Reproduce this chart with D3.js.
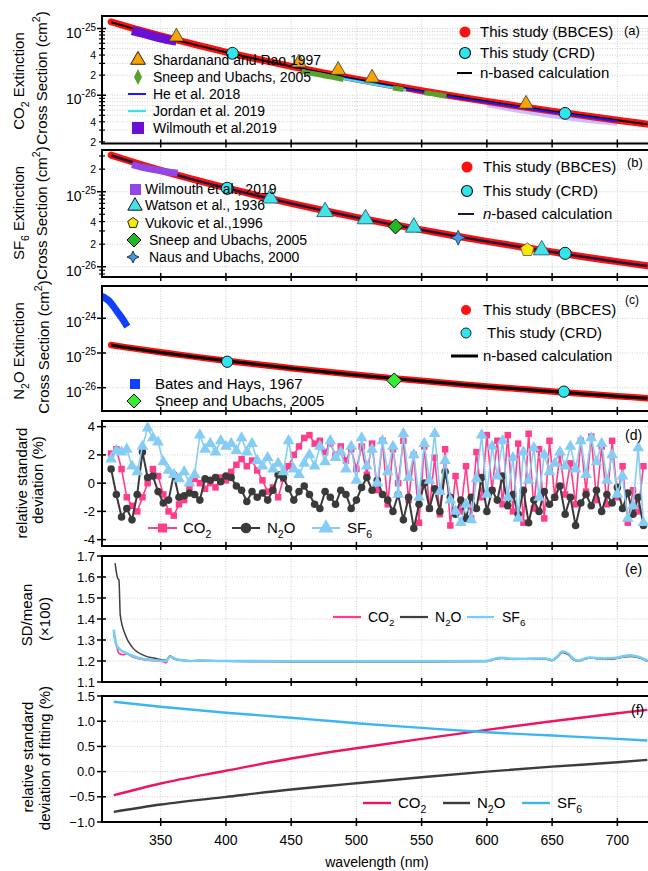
<!DOCTYPE html>
<html>
<head>
<meta charset="utf-8">
<script src="https://cdn.jsdelivr.net/npm/d3@7"></script>
<style>
body { margin: 0; background: #fff; }
svg { display: block; font-family: "Liberation Sans", Arial, Helvetica, sans-serif; }
</style>
</head>
<body>
<svg id="chart" width="648" height="871"></svg>
<script>
// ---------- data ----------
var xTicks = [350, 400, 450, 500, 550, 600, 650, 700];

// broadband (BBCES) and n-based curves, panels a-c
var bbWl = [312, 325, 350, 375, 400, 425, 450, 475, 500, 525, 550, 575, 600, 625, 650, 675, 700, 723];
var co2Bbces = [1.26e-25, 1.06e-25, 7.78e-26, 5.82e-26, 4.44e-26, 3.44e-26, 2.71e-26, 2.16e-26, 1.74e-26, 1.42e-26, 1.17e-26, 9.67e-27, 8.09e-27, 6.81e-27, 5.77e-27, 4.93e-27, 4.23e-27, 3.69e-27];
var co2NBased = [1.25e-25, 1.05e-25, 7.70e-26, 5.78e-26, 4.42e-26, 3.43e-26, 2.70e-26, 2.15e-26, 1.73e-26, 1.41e-26, 1.16e-26, 9.62e-27, 8.05e-27, 6.79e-27, 5.76e-27, 4.92e-27, 4.22e-27, 3.68e-27];
var sf6Bbces = [3.08e-25, 2.61e-25, 1.93e-25, 1.46e-25, 1.13e-25, 8.81e-26, 6.99e-26, 5.62e-26, 4.56e-26, 3.74e-26, 3.10e-26, 2.59e-26, 2.18e-26, 1.85e-26, 1.58e-26, 1.35e-26, 1.17e-26, 1.03e-26];
var sf6NBased = [3.05e-25, 2.59e-25, 1.92e-25, 1.45e-25, 1.12e-25, 8.76e-26, 6.96e-26, 5.60e-26, 4.54e-26, 3.73e-26, 3.09e-26, 2.58e-26, 2.17e-26, 1.84e-26, 1.57e-26, 1.35e-26, 1.16e-26, 1.02e-26];
var n2oBbces = [1.70e-25, 1.43e-25, 1.05e-25, 7.85e-26, 5.99e-26, 4.64e-26, 3.66e-26, 2.91e-26, 2.35e-26, 1.92e-26, 1.58e-26, 1.30e-26, 1.09e-26, 9.19e-27, 7.78e-27, 6.65e-27, 5.71e-27, 4.98e-27];
var n2oNBased = [1.69e-25, 1.42e-25, 1.04e-25, 7.80e-26, 5.96e-26, 4.62e-26, 3.64e-26, 2.90e-26, 2.34e-26, 1.91e-26, 1.57e-26, 1.30e-26, 1.09e-26, 9.15e-27, 7.75e-27, 6.63e-27, 5.69e-27, 4.96e-27];

// panel a literature
var shardWl = [362, 456, 486, 512, 630];
var shardVal = [7.5e-26, 3.07e-26, 2.38e-26, 1.82e-26, 7.4e-27];
var sneepCo2Wl = [458, 466, 474, 482, 490, null, 528, 536, null, 552, 560, 569];
var sneepCo2Val = [2.30e-26, 2.12e-26, 1.98e-26, 1.85e-26, 1.72e-26, null, 1.28e-26, 1.22e-26, null, 1.09e-26, 1.04e-26, 0.96e-26];
var heWl = [458, 480, 505, 530, 555, 580, 605, 630, 655, 680, 700];
var heVal = [2.41e-26, 1.98e-26, 1.60e-26, 1.31e-26, 1.08e-26, 8.95e-27, 7.49e-27, 6.33e-27, 5.37e-27, 4.59e-27, 4.06e-27];
var heBandWl = [600, 625, 650, 675, 700];
var heBandLo = [6.6e-27, 5.4e-27, 4.5e-27, 3.9e-27, 3.5e-27];
var heBandHi = [8.8e-27, 7.5e-27, 6.4e-27, 5.5e-27, 4.8e-27];
var jordanWl = [466, 480, 495, 510, 525, 538];
var jordanVal = [2.17e-26, 1.92e-26, 1.69e-26, 1.49e-26, 1.32e-26, 1.19e-26];
var wilCo2Wl = [328, 336, 345, 354, 362];
var wilCo2Val = [9.3e-26, 8.5e-26, 7.6e-26, 6.9e-26, 6.5e-26];
var crdCo2Wl = [405, 660];
var crdCo2Val = [4.25e-26, 5.35e-27];

// panel b literature
var wilSf6Wl = [328, 336, 345, 354, 363];
var wilSf6Val = [2.30e-25, 2.12e-25, 1.97e-25, 1.85e-25, 1.77e-25];
var watsonWl = [434, 476, 507, 544, 642];
var watsonVal = [8.2e-26, 5.4e-26, 4.33e-26, 3.35e-26, 1.67e-26];
var vukovicWl = [631];
var vukovicVal = [1.68e-26];
var sneepSf6Wl = [530];
var sneepSf6Val = [3.45e-26];
var nausWl = [578];
var nausVal = [2.44e-26];
var crdSf6Wl = [401, 660];
var crdSf6Val = [1.11e-25, 1.51e-26];

// panel c literature
var batesWl = [305, 308, 311, 314, 317, 320, 323];
var batesVal = [4.3e-24, 3.7e-24, 3.0e-24, 2.15e-24, 1.5e-24, 1.05e-24, 7.0e-25];
var sneepN2oWl = [529];
var sneepN2oVal = [1.62e-26];
var crdN2oWl = [401, 659];
var crdN2oVal = [5.6e-26, 7.7e-27];

// panel d: relative standard deviation (%)
var dWl = [312,316,320,324,328,332,336,340,344,348,352,356,360,364,368,372,376,380,384,388,392,396,400,404,408,412,416,420,424,428,432,436,440,444,448,452,456,460,464,468,472,476,480,484,488,492,496,500,504,508,512,516,520,524,528,532,536,540,544,548,552,556,560,564,568,572,576,580,584,588,592,596,600,604,608,612,616,620,624,628,632,636,640,644,648,652,656,660,664,668,672,676,680,684,688,692,696,700,704,708,712,716,720];
var dCO2 = [2.1,2.4,1.0,-1.0,-1.6,-2.0,-1.0,0.0,1.0,0.5,
  -0.8,-2.0,-2.3,-1.5,-1.2,-0.3,0.3,0.0,-0.4,0.0,
  -0.3,0.4,0.2,0.8,1.3,1.7,1.2,1.6,0.9,0.2,
  -0.6,-0.3,-1.0,0.3,1.2,2.0,2.6,3.2,3.4,2.8,
  3.0,2.2,2.8,2.0,2.6,1.6,2.4,1.0,2.6,0.6,
  2.8,-0.5,3.0,-1.5,2.4,0.0,3.0,-1.2,2.0,-2.8,
  2.6,-1.8,1.8,-2.2,2.4,-3.0,0.5,-2.0,1.2,-2.5,
  2.2,-1.0,3.4,-0.5,3.0,-1.5,3.4,-2.0,2.8,-2.8,
  3.5,-1.8,2.4,-2.5,3.0,-1.0,2.0,-0.8,1.4,-1.5,
  3.0,-0.6,3.3,-1.2,2.6,-1.5,3.0,-1.0,1.2,-2.8,
  -0.5,-2.0,1.2];
var dN2O = [1.0,-0.8,-2.4,-1.8,-2.6,-0.8,2.2,0.4,0.5,-0.6,
  -1.4,-1.2,0.6,-1.0,-0.9,-0.7,-0.8,-1.2,0.3,0.2,
  0.4,0.1,0.5,0.4,-0.2,-0.5,-1.3,-0.6,-1.0,-0.7,
  -1.2,-0.5,0.6,0.4,-0.4,-1.2,-0.6,-0.2,-0.8,-1.5,
  -1.8,-0.6,-1.0,-1.5,-0.5,-0.8,-1.8,-1.2,-0.3,0.4,
  -0.5,0.2,-0.8,-1.2,-2.0,-0.8,-2.6,-1.0,-3.2,-1.5,
  0.0,-1.8,-0.4,-2.0,0.8,-1.0,-2.2,-1.2,-2.5,-1.0,
  -1.8,0.4,-2.0,-0.5,-1.2,0.5,-1.6,-0.8,-2.2,-0.5,
  -2.8,-1.2,-2.0,-0.6,-1.5,-1.0,-0.2,-2.2,-1.0,-3.0,
  -1.4,-0.8,-1.6,-0.5,-2.0,-0.8,-1.4,-0.3,-1.8,-0.7,
  -2.2,-1.0,-3.0];
var dSF6 = [1.7,2.3,2.2,2.4,1.2,0.8,2.6,3.9,3.2,2.9,
  1.5,0.9,0.6,0.3,0.8,0.0,0.6,3.4,2.4,2.8,
  2.2,3.0,2.6,2.8,2.3,3.2,2.2,2.8,1.6,1.2,
  1.8,1.0,1.4,0.8,3.0,1.0,0.6,1.4,2.0,1.2,
  2.6,1.5,3.0,1.8,2.2,1.0,2.6,0.2,3.2,1.2,
  2.4,0.0,3.0,0.8,2.6,-0.8,3.5,0.4,2.0,-1.0,
  2.8,0.2,3.5,-0.6,1.6,-1.2,-2.0,-2.8,-1.5,-2.6,
  0.3,3.4,-0.8,2.6,0.5,3.0,-1.0,1.8,-2.5,2.2,
  0.2,2.5,-1.0,2.0,0.8,1.4,2.2,1.2,2.6,1.0,
  3.0,0.6,3.2,1.5,2.8,0.2,2.0,-0.8,0.5,-2.5,
  -1.6,2.5,-2.8];

// panel e: SD/mean (x100)
var eCO2HeadWl = [314, 316, 318, 321, 324, 329, 339, 352, 354, 357, 362];
var eCO2Head = [1.325, 1.277, 1.237, 1.23, 1.234, 1.218, 1.205, 1.197, 1.192, 1.224, 1.208];
var eN2OHeadWl = [315, 317, 318, 319, 323, 328, 337, 347, 354, 357, 360, 366];
var eN2OHead = [1.666, 1.594, 1.586, 1.418, 1.323, 1.267, 1.227, 1.211, 1.203, 1.222, 1.211, 1.203];
var eSF6HeadWl = [314, 316, 319, 324, 334, 344, 354, 357, 362];
var eSF6Head = [1.349, 1.277, 1.253, 1.237, 1.213, 1.205, 1.2, 1.22, 1.208];
var eTailWl = [372, 380, 400, 450, 500, 550, 600, 606, 612, 620, 630, 645, 650, 654, 658, 662, 666, 670, 675, 679, 684, 690, 698, 704, 710, 716, 723];
var eCO2Tail = [1.2, 1.202, 1.199, 1.198, 1.198, 1.198, 1.199, 1.21, 1.214, 1.209, 1.21, 1.211, 1.203, 1.22, 1.243, 1.235, 1.21, 1.2, 1.21, 1.216, 1.212, 1.21, 1.212, 1.22, 1.225, 1.218, 1.2];
var eN2OTail = [1.201, 1.202, 1.199, 1.197, 1.197, 1.197, 1.198, 1.208, 1.213, 1.208, 1.209, 1.21, 1.202, 1.218, 1.24, 1.232, 1.208, 1.2, 1.209, 1.214, 1.212, 1.209, 1.211, 1.218, 1.222, 1.216, 1.199];
var eSF6Tail = [1.2, 1.203, 1.2, 1.199, 1.199, 1.199, 1.2, 1.211, 1.215, 1.21, 1.211, 1.212, 1.204, 1.222, 1.245, 1.237, 1.212, 1.202, 1.212, 1.217, 1.214, 1.212, 1.214, 1.222, 1.227, 1.22, 1.202];

// panel f: relative standard deviation of fitting (%)
var fWl = [314, 350, 400, 450, 480, 500, 550, 600, 650, 700, 723];
var fCO2 = [-0.468, -0.236, 0.016, 0.26, 0.39, 0.464, 0.649, 0.828, 1.0, 1.159, 1.225];
var fN2O = [-0.8, -0.654, -0.502, -0.355, -0.28, -0.232, -0.113, 0.0, 0.099, 0.185, 0.232];
var fSF6 = [1.387, 1.287, 1.168, 1.069, 1.003, 0.96, 0.868, 0.78, 0.715, 0.649, 0.616];

// ---------- setup ----------
var svg = d3.select("#chart");
var defs = svg.append("defs");
var L = 102, R = 650;
var x = d3.scaleLinear().domain([305, 723.5]).range([102, 648]);

function zip(wl, vals) {
  return wl.map(function (w, i) { return {w: w, v: vals[i]}; });
}

function makePanel(name, top, bottom, y) {
  var g = svg.append("g").attr("class", "panel-" + name);
  defs.append("clipPath").attr("id", "clip-" + name)
    .append("rect").attr("x", L).attr("y", top).attr("width", R - L).attr("height", bottom - top);
  return {
    grid: g.append("g"),
    plot: g.append("g").attr("clip-path", "url(#clip-" + name + ")"),
    axes: g.append("g"),
    top: top, bottom: bottom, y: y
  };
}

function frame(p, majors, minors, gridVals) {
  p.grid.selectAll(".vg").data(xTicks).enter().append("line")
    .attr("x1", function (d) { return x(d); }).attr("x2", function (d) { return x(d); })
    .attr("y1", p.top).attr("y2", p.bottom)
    .attr("stroke", "#c4c4c4").attr("stroke-width", 0.8).attr("stroke-dasharray", "1,1.5");
  p.grid.selectAll(".hg").data(gridVals).enter().append("line")
    .attr("x1", L).attr("x2", R)
    .attr("y1", function (d) { return p.y(d); }).attr("y2", function (d) { return p.y(d); })
    .attr("stroke", "#c4c4c4").attr("stroke-width", 0.8).attr("stroke-dasharray", "1,1.5");

  p.axes.append("rect")
    .attr("x", L).attr("y", p.top).attr("width", R - L + 2).attr("height", p.bottom - p.top)
    .attr("fill", "none").attr("stroke", "#000").attr("stroke-width", 2);

  p.axes.selectAll(".xt").data(xTicks).enter().append("line")
    .attr("x1", function (d) { return x(d); }).attr("x2", function (d) { return x(d); })
    .attr("y1", p.bottom - 4).attr("y2", p.bottom + 4)
    .attr("stroke", "#000").attr("stroke-width", 1.5);
  p.axes.selectAll(".ymaj").data(majors).enter().append("line")
    .attr("x1", L - 5).attr("x2", L + 4)
    .attr("y1", function (d) { return p.y(d); }).attr("y2", function (d) { return p.y(d); })
    .attr("stroke", "#000").attr("stroke-width", 1.5);
  p.axes.selectAll(".ymin").data(minors).enter().append("line")
    .attr("x1", L - 3).attr("x2", L + 3)
    .attr("y1", function (d) { return p.y(d); }).attr("y2", function (d) { return p.y(d); })
    .attr("stroke", "#000").attr("stroke-width", 1.2);
}

function numLabels(p, vals, fmt) {
  p.axes.selectAll(".yl").data(vals).enter().append("text")
    .attr("x", 95).attr("y", function (d) { return p.y(d) + 4.5; })
    .attr("text-anchor", "end").style("font-size", "13px")
    .text(fmt);
}

function logLabels(p, list) {
  list.forEach(function (d) {
    var t = p.axes.append("text").attr("x", 96).attr("text-anchor", "end");
    if (d.exp) {
      t.attr("y", p.y(d.v) + 9).style("font-size", "14px");
      t.append("tspan").text("10");
      t.append("tspan").attr("dy", -7).style("font-size", "10px").text(d.exp);
    } else {
      t.attr("y", p.y(d.v) + 4).style("font-size", "10.5px").text(d.t);
    }
  });
}

// rich text: parts = [[text, kind]] kind: "", "sub", "sup", "i"
function rich(t, parts, fs) {
  var shift = 0;
  parts.forEach(function (pt) {
    var s = t.append("tspan").text(pt[0]);
    var target = pt[1] === "sub" ? fs * 0.3 : (pt[1] === "sup" ? -fs * 0.45 : 0);
    if (target !== shift) s.attr("dy", target - shift);
    shift = target;
    if (pt[1] === "sub" || pt[1] === "sup") s.style("font-size", (fs * 0.7) + "px");
    if (pt[1] === "i") s.style("font-style", "italic");
  });
  return t;
}

function vTitle(bx, cy, parts, fs) {
  var t = svg.append("text")
    .attr("transform", "translate(" + bx + "," + cy + ") rotate(-90)")
    .attr("text-anchor", "middle").style("font-size", fs + "px");
  rich(t, parts, fs);
}

function legText(g, tx, cy, parts, fs) {
  var t = g.append("text").attr("x", tx).attr("y", cy + fs * 0.35).style("font-size", fs + "px");
  rich(t, parts, fs);
}

function logTicks(y) {
  var d = y.domain(), out = [];
  for (var e = -28; e <= -22; e++) {
    for (var m = 2; m <= 9; m++) {
      var v = m * Math.pow(10, e);
      if (v > d[0] && v < d[1]) out.push(v);
    }
  }
  return out;
}

// marker shapes
var triPath = function (s) { return d3.symbol().type(d3.symbolTriangle).size(s)(); };
var sqPath = function (s) { return d3.symbol().type(d3.symbolSquare).size(s)(); };
var circPath = function (s) { return d3.symbol().type(d3.symbolCircle).size(s)(); };
function diamondPath(r) { return "M0," + (-r) + "L" + r + ",0L0," + r + "L" + (-r) + ",0Z"; }
function tallDiamond(w, h) { return "M0," + (-h) + "L" + w + ",0L0," + h + "L" + (-w) + ",0Z"; }
function pentPath(r) {
  var pts = d3.range(5).map(function (k) {
    var a = -Math.PI / 2 + k * 2 * Math.PI / 5;
    return [r * Math.cos(a), r * Math.sin(a)];
  });
  return "M" + pts.join("L") + "Z";
}
function star4(r) {
  var q = r * 0.32;
  return "M0," + (-r) + "L" + q + "," + (-q) + "L" + r + ",0L" + q + "," + q + "L0," + r +
    "L" + (-q) + "," + q + "L" + (-r) + ",0L" + (-q) + "," + (-q) + "Z";
}

function logLine(p, data, curve) {
  return d3.line()
    .defined(function (d) { return d.w != null; })
    .x(function (d) { return x(d.w); })
    .y(function (d) { return p.y(d.v); })
    .curve(curve || d3.curveMonotoneX)(data);
}

function points(p, data, path, fill, stroke, sw) {
  p.plot.selectAll(null).data(data).enter().append("path")
    .attr("d", path)
    .attr("transform", function (d) { return "translate(" + x(d.w) + "," + p.y(d.v) + ")"; })
    .attr("fill", fill).attr("stroke", stroke).attr("stroke-width", sw);
}

// ---------- panel (a) CO2 ----------
var pa = makePanel("a", 16, 143.5, d3.scaleLog().domain([1.89e-27, 1.54e-25]).range([143.5, 16]));
frame(pa, [1e-26, 1e-25], logTicks(pa.y), logTicks(pa.y).concat([1e-26, 1e-25]));
logLabels(pa, [{v: 1e-25, exp: "-25"}, {v: 4e-26, t: "4"}, {v: 2e-26, t: "2"}, {v: 1e-26, exp: "-26"}, {v: 4e-27, t: "4"}, {v: 2e-27, t: "2"}]);

pa.plot.append("path")
  .attr("d", d3.area().x(function (d) { return x(d.w); })
    .y0(function (d) { return pa.y(d.lo); }).y1(function (d) { return pa.y(d.hi); })
    .curve(d3.curveMonotoneX)(heBandWl.map(function (w, i) { return {w: w, lo: heBandLo[i], hi: heBandHi[i]}; })))
  .attr("fill", "#b4aaff").attr("opacity", 0.75);
pa.plot.append("path").attr("d", logLine(pa, zip(bbWl, co2Bbces)))
  .attr("fill", "none").attr("stroke", "#ff1010").attr("stroke-width", 7).attr("stroke-linecap", "round");
pa.plot.append("path").attr("d", logLine(pa, zip(bbWl, co2NBased)))
  .attr("fill", "none").attr("stroke", "#000").attr("stroke-width", 2);
pa.plot.append("path").attr("d", logLine(pa, zip(heWl, heVal)))
  .attr("fill", "none").attr("stroke", "#1a1aff").attr("stroke-width", 2);
pa.plot.append("path").attr("d", logLine(pa, zip(jordanWl, jordanVal)))
  .attr("fill", "none").attr("stroke", "#35e3e8").attr("stroke-width", 2.2);
pa.plot.append("path").attr("d", logLine(pa, zip(sneepCo2Wl, sneepCo2Val)))
  .attr("fill", "none").attr("stroke", "#5aa02c").attr("stroke-width", 5);
pa.plot.append("path").attr("d", logLine(pa, zip(wilCo2Wl, wilCo2Val)))
  .attr("fill", "none").attr("stroke", "#6a0fd4").attr("stroke-width", 9);
points(pa, zip(shardWl, shardVal), triPath(95), "#f5a400", "#333", 0.8);
points(pa, zip(crdCo2Wl, crdCo2Val), circPath(110), "#30e6ee", "#111", 1);

// legends (a)
var la = pa.axes;
la.append("path").attr("d", triPath(95)).attr("transform", "translate(138,60)").attr("fill", "#f5a400").attr("stroke", "#222").attr("stroke-width", 1);
legText(la, 153, 60, [["Shardanand and Rao 1997", ""]], 14);
la.append("path").attr("d", tallDiamond(4, 8)).attr("transform", "translate(138,77)").attr("fill", "#5aa02c");
legText(la, 153, 77, [["Sneep and Ubachs, 2005", ""]], 14);
la.append("line").attr("x1", 128).attr("x2", 146).attr("y1", 94).attr("y2", 94).attr("stroke", "#1a1aff").attr("stroke-width", 2);
legText(la, 153, 94, [["He et al. 2018", ""]], 14);
la.append("line").attr("x1", 128).attr("x2", 146).attr("y1", 111).attr("y2", 111).attr("stroke", "#35e3e8").attr("stroke-width", 2.2);
legText(la, 153, 111, [["Jordan et al. 2019", ""]], 14);
la.append("rect").attr("x", 132).attr("y", 122).attr("width", 12).attr("height", 12).attr("fill", "#6a0fd4");
legText(la, 153, 128, [["Wilmouth et al.2019", ""]], 14);

la.append("circle").attr("cx", 465).attr("cy", 32).attr("r", 5.5).attr("fill", "#ff1010");
legText(la, 480, 32, [["This study (BBCES)", ""]], 15);
la.append("circle").attr("cx", 465).attr("cy", 53).attr("r", 5.5).attr("fill", "#30e6ee").attr("stroke", "#111").attr("stroke-width", 1.2);
legText(la, 480, 53, [["This study (CRD)", ""]], 15);
la.append("line").attr("x1", 457).attr("x2", 472).attr("y1", 73).attr("y2", 73).attr("stroke", "#000").attr("stroke-width", 2);
legText(la, 480, 73, [["n-based calculation", ""]], 15);
legText(la, 624, 30, [["(a)", ""]], 13);

// ---------- panel (b) SF6 ----------
var pb = makePanel("b", 150, 277, d3.scaleLog().domain([7.3e-27, 3.6e-25]).range([277, 150]));
frame(pb, [1e-26, 1e-25], logTicks(pb.y), [2e-25, 1e-25, 4e-26, 2e-26, 1e-26]);
logLabels(pb, [{v: 2e-25, t: "2"}, {v: 1e-25, exp: "-25"}, {v: 4e-26, t: "4"}, {v: 2e-26, t: "2"}, {v: 1e-26, exp: "-26"}]);

pb.plot.append("path").attr("d", logLine(pb, zip(bbWl, sf6Bbces)))
  .attr("fill", "none").attr("stroke", "#ff1010").attr("stroke-width", 7).attr("stroke-linecap", "round");
pb.plot.append("path").attr("d", logLine(pb, zip(bbWl, sf6NBased)))
  .attr("fill", "none").attr("stroke", "#1a1a3c").attr("stroke-width", 2.5);
pb.plot.append("path").attr("d", logLine(pb, zip(wilSf6Wl, wilSf6Val)))
  .attr("fill", "none").attr("stroke", "#9146e6").attr("stroke-width", 7);
points(pb, zip(watsonWl, watsonVal), triPath(120), "#45e3e8", "#2a5a6a", 0.9);
points(pb, zip(vukovicWl, vukovicVal), pentPath(7), "#f7ea00", "#555", 0.8);
points(pb, zip(sneepSf6Wl, sneepSf6Val), diamondPath(7.5), "#22b822", "#000", 1);
points(pb, zip(nausWl, nausVal), star4(7.5), "#3f9be6", "#1a3050", 0.8);
points(pb, zip(crdSf6Wl, crdSf6Val), circPath(115), "#30e6ee", "#111", 1);

var lb = pb.axes;
lb.append("rect").attr("x", 130).attr("y", 184).attr("width", 11).attr("height", 11).attr("fill", "#9146e6");
legText(lb, 145, 189, [["Wilmouth et al., 2019", ""]], 14);
lb.append("path").attr("d", triPath(90)).attr("transform", "translate(135,206)").attr("fill", "#45e3e8").attr("stroke", "#111").attr("stroke-width", 1);
legText(lb, 145, 205, [["Watson et al., 1936", ""]], 14);
lb.append("path").attr("d", pentPath(5.5)).attr("transform", "translate(133,223)").attr("fill", "#f7ea00").attr("stroke", "#222").attr("stroke-width", 1);
legText(lb, 145, 223, [["Vukovic et al.,1996", ""]], 14);
lb.append("path").attr("d", diamondPath(7)).attr("transform", "translate(134,240)").attr("fill", "#22b822").attr("stroke", "#000").attr("stroke-width", 1);
legText(lb, 149, 240, [["Sneep and Ubachs, 2005", ""]], 14);
lb.append("path").attr("d", star4(6)).attr("transform", "translate(133,257)").attr("fill", "#3f9be6").attr("stroke", "#111").attr("stroke-width", 0.8);
legText(lb, 149, 257, [["Naus and Ubachs, 2000", ""]], 14);

lb.append("circle").attr("cx", 467).attr("cy", 167).attr("r", 5.5).attr("fill", "#ff1010");
legText(lb, 483, 167, [["This study (BBCES)", ""]], 15);
lb.append("circle").attr("cx", 467).attr("cy", 191).attr("r", 5.5).attr("fill", "#30e6ee").attr("stroke", "#111").attr("stroke-width", 1.2);
legText(lb, 483, 191, [["This study (CRD)", ""]], 15);
lb.append("line").attr("x1", 458).attr("x2", 474).attr("y1", 214).attr("y2", 214).attr("stroke", "#1a1a3c").attr("stroke-width", 2);
legText(lb, 483, 214, [["n", "i"], ["-based calculation", ""]], 15);
legText(lb, 627, 162, [["(b)", ""]], 13);

// ---------- panel (c) N2O ----------
var pc = makePanel("c", 286, 411, d3.scaleLog().domain([2.13e-27, 8.53e-24]).range([411, 286]));
frame(pc, [1e-26, 1e-25, 1e-24], [], [1e-26, 1e-25, 1e-24]);
logLabels(pc, [{v: 1e-24, exp: "-24"}, {v: 1e-25, exp: "-25"}, {v: 1e-26, exp: "-26"}]);

pc.plot.append("path").attr("d", logLine(pc, zip(bbWl, n2oBbces)))
  .attr("fill", "none").attr("stroke", "#ff1010").attr("stroke-width", 6.5).attr("stroke-linecap", "round");
pc.plot.append("path").attr("d", logLine(pc, zip(bbWl, n2oNBased)))
  .attr("fill", "none").attr("stroke", "#000").attr("stroke-width", 3);
pc.plot.append("path").attr("d", logLine(pc, zip(batesWl, batesVal)))
  .attr("fill", "none").attr("stroke", "#1040ff").attr("stroke-width", 7).attr("stroke-linecap", "square");
points(pc, zip(sneepN2oWl, sneepN2oVal), diamondPath(7.5), "#33ee33", "#111", 1);
points(pc, zip(crdN2oWl, crdN2oVal), circPath(100), "#30e6ee", "#111", 1);

var lc = pc.axes;
lc.append("rect").attr("x", 130).attr("y", 379).attr("width", 10).attr("height", 10).attr("fill", "#1040ff");
legText(lc, 155, 384, [["Bates and Hays, 1967", ""]], 15);
lc.append("path").attr("d", diamondPath(7)).attr("transform", "translate(134,401)").attr("fill", "#33ee33").attr("stroke", "#111").attr("stroke-width", 1);
legText(lc, 155, 401, [["Sneep and Ubachs, 2005", ""]], 15);

lc.append("circle").attr("cx", 466).attr("cy", 310).attr("r", 5).attr("fill", "#ff1010");
legText(lc, 483, 310, [["This study (BBCES)", ""]], 15);
lc.append("circle").attr("cx", 466).attr("cy", 333).attr("r", 5).attr("fill", "#30e6ee").attr("stroke", "#222").attr("stroke-width", 1);
legText(lc, 487, 333, [["This study (CRD)", ""]], 15);
lc.append("line").attr("x1", 451).attr("x2", 478).attr("y1", 356).attr("y2", 356).attr("stroke", "#000").attr("stroke-width", 3);
legText(lc, 483, 356, [["n-based calculation", ""]], 15);
legText(lc, 625, 300, [["(c)", ""]], 12);

// ---------- panel (d) ----------
var pd = makePanel("d", 421, 546, d3.scaleLinear().domain([-4.45, 4.4]).range([546, 421]));
frame(pd, [-4, -2, 0, 2, 4], [], [-4, -2, 0, 2, 4]);
numLabels(pd, [-4, -2, 0, 2, 4], function (d) { return d; });

var dSeries = [
  {vals: dCO2, color: "#ff3d8b", path: sqPath(42), legPath: sqPath(80), lw: 1.6,
   lab: [["CO", ""], ["2", "sub"]], x1: 148, x2: 177, tx: 183},
  {vals: dN2O, color: "#3a3a3a", path: circPath(45), legPath: circPath(90), lw: 2,
   lab: [["N", ""], ["2", "sub"], ["O", ""]], x1: 232, x2: 260, tx: 267},
  {vals: dSF6, color: "#86cdf5", path: triPath(60), legPath: triPath(100), lw: 1.6,
   lab: [["SF", ""], ["6", "sub"]], x1: 312, x2: 340, tx: 347}
];
dSeries.forEach(function (s) {
  var data = zip(dWl, s.vals);
  pd.plot.append("path")
    .attr("d", d3.line().x(function (d) { return x(d.w); }).y(function (d) { return pd.y(d.v); })(data))
    .attr("fill", "none").attr("stroke", s.color).attr("stroke-width", s.lw);
  points(pd, data, s.path, s.color, "none", 0);
});

var ld = pd.axes;
dSeries.forEach(function (s) {
  ld.append("line").attr("x1", s.x1).attr("x2", s.x2).attr("y1", 528).attr("y2", 528)
    .attr("stroke", s.color).attr("stroke-width", 2);
  ld.append("path").attr("d", s.legPath)
    .attr("transform", "translate(" + ((s.x1 + s.x2) / 2) + ",528)").attr("fill", s.color);
  legText(ld, s.tx, 528, s.lab, 15);
});
legText(ld, 625, 435, [["(d)", ""]], 14);

// ---------- panel (e) ----------
var pe = makePanel("e", 556, 682, d3.scaleLinear().domain([1.1, 1.7]).range([682, 556]));
var eTicks = [1.1, 1.2, 1.3, 1.4, 1.5, 1.6, 1.7];
frame(pe, eTicks, [], eTicks);
numLabels(pe, eTicks, d3.format(".1f"));

var eSeries = [
  {wl: eCO2HeadWl.concat(eTailWl), vals: eCO2Head.concat(eCO2Tail), color: "#ff3d8b", lw: 1.8,
   lab: [["CO", ""], ["2", "sub"]], x1: 333, x2: 361, tx: 368},
  {wl: eN2OHeadWl.concat(eTailWl), vals: eN2OHead.concat(eN2OTail), color: "#3f3f3f", lw: 1.5,
   lab: [["N", ""], ["2", "sub"], ["O", ""]], x1: 400, x2: 428, tx: 435},
  {wl: eSF6HeadWl.concat(eTailWl), vals: eSF6Head.concat(eSF6Tail), color: "#76cdf6", lw: 2.6,
   lab: [["SF", ""], ["6", "sub"]], x1: 467, x2: 494, tx: 502}
];
eSeries.forEach(function (s) {
  pe.plot.append("path")
    .attr("d", d3.line().x(function (d) { return x(d.w); }).y(function (d) { return pe.y(d.v); })
      .curve(d3.curveMonotoneX)(zip(s.wl, s.vals)))
    .attr("fill", "none").attr("stroke", s.color).attr("stroke-width", s.lw);
  pe.axes.append("line").attr("x1", s.x1).attr("x2", s.x2).attr("y1", 617).attr("y2", 617)
    .attr("stroke", s.color).attr("stroke-width", 2.2);
  legText(pe.axes, s.tx, 617, s.lab, 14);
});
legText(pe.axes, 625, 569, [["(e)", ""]], 14);

// ---------- panel (f) ----------
var pf = makePanel("f", 696, 822, d3.scaleLinear().domain([-1, 1.5]).range([822, 696]));
var fTicks = [-1, -0.5, 0, 0.5, 1, 1.5];
frame(pf, fTicks, [], fTicks);
numLabels(pf, fTicks, d3.format(".1f"));

var fSeries = [
  {vals: fCO2, color: "#ee1464", lab: [["CO", ""], ["2", "sub"]], x1: 363, x2: 391, tx: 398},
  {vals: fN2O, color: "#3c3c3c", lab: [["N", ""], ["2", "sub"], ["O", ""]], x1: 443, x2: 470, tx: 477},
  {vals: fSF6, color: "#3ab6f2", lab: [["SF", ""], ["6", "sub"]], x1: 522, x2: 550, tx: 557}
];
fSeries.forEach(function (s) {
  pf.plot.append("path")
    .attr("d", d3.line().x(function (d) { return x(d.w); }).y(function (d) { return pf.y(d.v); })
      .curve(d3.curveMonotoneX)(zip(fWl, s.vals)))
    .attr("fill", "none").attr("stroke", s.color).attr("stroke-width", 2.4);
  pf.axes.append("line").attr("x1", s.x1).attr("x2", s.x2).attr("y1", 803).attr("y2", 803)
    .attr("stroke", s.color).attr("stroke-width", 2.4);
  legText(pf.axes, s.tx, 803, s.lab, 15);
});
legText(pf.axes, 631, 710, [["(f)", ""]], 14);

// x axis labels
svg.selectAll(".xl").data(xTicks).enter().append("text")
  .attr("x", function (d) { return x(d); }).attr("y", 845)
  .attr("text-anchor", "middle").style("font-size", "14px")
  .text(function (d) { return d; });
svg.append("text").attr("x", 377).attr("y", 867).attr("text-anchor", "middle")
  .style("font-size", "14px").text("wavelength (nm)");

// y axis titles
vTitle(24, 81, [["CO", ""], ["2", "sub"], [" Extinction", ""]], 15);
vTitle(47, 78, [["Cross Section (cm", ""], ["2", "sup"], [")", ""]], 15);
vTitle(24, 213, [["SF", ""], ["6", "sub"], [" Extinction", ""]], 15);
vTitle(47, 213, [["Cross Section (cm", ""], ["2", "sup"], [")", ""]], 15);
vTitle(24, 351, [["N", ""], ["2", "sub"], ["O Extinction", ""]], 15);
vTitle(49, 347, [["Cross Section (cm", ""], ["2", "sup"], [")", ""]], 15);
vTitle(27, 483, [["relative standard", ""]], 15);
vTitle(43, 480, [["deviation (%)", ""]], 15);
vTitle(32, 615, [["SD/mean", ""]], 15);
vTitle(50, 619, [["(\u00d7100)", ""]], 15);
vTitle(33, 757, [["relative standard", ""]], 15);
vTitle(50, 758, [["deviation of fitting (%)", ""]], 15);
</script>
</body>
</html>
